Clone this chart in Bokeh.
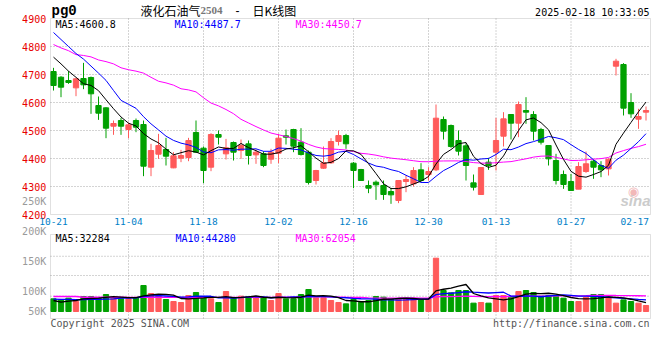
import pandas as pd
from bokeh.plotting import figure
from bokeh.models import Range1d, Label, LabelSet, ColumnDataSource, BoxAnnotation
from bokeh.core.properties import value
from bokeh.embed import file_html
from bokeh.resources import INLINE

# ---------------- data ----------------
date_labels = ["10-21", "11-04", "11-18", "12-02", "12-16", "12-30", "01-13", "01-27", "02-17"]
date_label_index = [0, 10, 20, 30, 40, 50, 59, 69, 78]

open_ = [4710.7, 4690.4, 4678.5, 4652.3, 4685.7, 4689.2, 4589.2, 4580.9, 4515.4, 4535.7,
         4503.5, 4535.7, 4521.4, 4369.0, 4415.4, 4432.1, 4366.6, 4401.1, 4403.5, 4492.8,
         4436.9, 4369.0, 4485.7, 4416.6, 4457.1, 4428.5, 4452.3, 4413.0, 4416.6, 4397.6,
         4419.0, 4480.9, 4503.5, 4458.3, 4422.6, 4321.4, 4365.4, 4384.5, 4460.7, 4482.0,
         4383.3, 4360.7, 4303.5, 4315.4, 4303.5, 4282.0, 4250.0, 4317.8, 4309.5, 4359.5,
         4342.8, 4359.5, 4539.3, 4517.8, 4464.3, 4445.2, 4313.0, 4271.4, 4386.9, 4422.6,
         4479.7, 4557.1, 4526.2, 4571.4, 4557.1, 4503.6, 4446.4, 4392.9, 4342.9, 4317.8,
         4290.5, 4353.6, 4390.5, 4375.0, 4363.0, 4729.7, 4735.7, 4600.0, 4540.5, 4565.5]
high = [4723.8, 4694.0, 4711.9, 4688.0, 4741.6, 4692.8, 4621.4, 4583.3, 4535.7, 4545.2,
        4528.5, 4542.8, 4535.7, 4452.3, 4488.0, 4473.8, 4422.6, 4430.9, 4473.8, 4535.7,
        4442.8, 4490.4, 4500.0, 4470.0, 4460.7, 4467.8, 4464.2, 4432.1, 4426.1, 4434.5,
        4488.0, 4503.5, 4506.0, 4508.3, 4428.5, 4359.5, 4442.8, 4472.6, 4500.0, 4488.0,
        4387.0, 4363.0, 4321.4, 4321.4, 4321.4, 4295.2, 4321.4, 4339.3, 4369.0, 4383.3,
        4369.0, 4592.8, 4550.0, 4521.4, 4500.0, 4455.0, 4342.8, 4369.0, 4402.4, 4545.2,
        4565.5, 4557.1, 4603.6, 4619.0, 4569.0, 4509.5, 4446.4, 4416.7, 4357.1, 4345.2,
        4386.9, 4425.0, 4395.0, 4390.5, 4400.2, 4756.0, 4740.5, 4633.3, 4577.4, 4585.7]
low = [4642.8, 4619.0, 4666.6, 4622.6, 4647.6, 4559.5, 4538.0, 4472.6, 4484.5, 4484.5,
       4472.6, 4494.0, 4336.9, 4336.9, 4398.8, 4375.0, 4365.4, 4386.9, 4390.4, 4421.4,
       4311.9, 4354.7, 4450.0, 4396.4, 4392.8, 4398.8, 4378.5, 4381.0, 4369.0, 4381.0,
       4383.3, 4450.0, 4422.6, 4410.7, 4307.1, 4307.1, 4363.0, 4381.0, 4446.4, 4434.5,
       4294.0, 4321.4, 4276.2, 4252.3, 4252.3, 4238.1, 4240.5, 4279.7, 4300.0, 4321.4,
       4321.4, 4355.0, 4467.8, 4438.1, 4410.7, 4321.4, 4285.7, 4271.4, 4359.5, 4357.1,
       4442.8, 4467.8, 4476.2, 4523.8, 4464.3, 4450.0, 4375.0, 4307.1, 4291.7, 4285.7,
       4290.5, 4348.8, 4327.4, 4333.3, 4339.3, 4696.4, 4553.6, 4545.2, 4505.9, 4535.7]
close = [4660.7, 4654.7, 4671.4, 4684.5, 4663.1, 4631.0, 4561.9, 4508.3, 4525.0, 4515.4,
         4520.2, 4511.9, 4372.6, 4428.5, 4446.4, 4408.3, 4409.5, 4410.7, 4464.2, 4422.6,
         4357.1, 4485.7, 4476.1, 4438.0, 4422.6, 4446.4, 4410.7, 4422.6, 4375.0, 4422.6,
         4472.6, 4476.1, 4444.0, 4414.2, 4314.2, 4357.1, 4384.5, 4460.7, 4482.1, 4452.4,
         4357.1, 4321.4, 4294.0, 4306.0, 4271.4, 4270.2, 4321.4, 4325.0, 4357.1, 4321.4,
         4353.5, 4544.0, 4497.6, 4442.8, 4426.2, 4375.0, 4297.6, 4367.8, 4375.0, 4464.3,
         4541.6, 4526.2, 4592.8, 4565.5, 4497.6, 4458.3, 4398.8, 4321.4, 4307.1, 4285.7,
         4371.4, 4381.0, 4369.0, 4359.5, 4397.6, 4747.6, 4579.8, 4559.5, 4550.0, 4571.4]
volume = [48400, 44500, 51000, 38200, 57300, 57300, 52200, 64900, 51000, 48400,
          48400, 52200, 99300, 68700, 61100, 45800, 38200, 34400, 61100, 72600,
          52200, 48400, 34400, 76400, 52200, 58500, 57300, 52200, 52200, 42000,
          68700, 48400, 48400, 64900, 84000, 52200, 52200, 42000, 34400, 29300,
          45800, 34400, 42000, 57300, 54700, 48400, 48400, 48400, 48400, 44500,
          48400, 203700, 80200, 71300, 80200, 80200, 31900, 34400, 31900, 61100,
          61100, 54700, 76400, 80200, 72600, 58500, 61100, 58500, 51000, 38200,
          38200, 54700, 64900, 64900, 54700, 31900, 44500, 38200, 31900, 22900]

# moving-average values before enough history is visible
ma5_head = [4762, 4738, 4712, 4690]
ma10_head = [4850, 4825, 4800, 4775, 4755, 4730, 4705, 4679, 4643]
ma30_head = [4807, 4795, 4785, 4771, 4768, 4763, 4752, 4746, 4738, 4724,
             4717, 4712, 4705, 4690, 4676, 4670, 4662, 4649, 4645, 4638,
             4617, 4598, 4588, 4575, 4560, 4540, 4527, 4514, 4502]
vol_ma5_head = [42000, 36000, 40000, 42000]
vol_ma10_head = [47000, 46000, 46000, 45000, 45000, 46000, 46000, 47000, 48000]
vol_ma30_head = [57300, 57300, 57300, 57300, 54500, 54500, 54500, 54500, 54500, 54500,
                 54000, 54000, 54000, 54000, 54000, 54000, 54000, 54000, 54000, 54000,
                 54000, 54000, 54000, 54000, 54000, 54000, 54000, 54000, 54000]

price_ticks = [4200, 4300, 4400, 4500, 4600, 4700, 4800, 4900]
# the volume scale labels of the source sit off their grid lines; kept as drawn
vol_label_values = [1100, 77500, 192000, 306700, 422100]
vol_label_texts = ["50K", "100K", "150K", "200K", "250K"]
vol_grid_values = [58400, 137500, 211000]

title_code = "pg0"
title_name = "液化石油气"
title_contract = "2504"
title_kind = "日K线图"
timestamp = "2025-02-18 10:33:05"
ma_texts = ["MA5:4600.8", "MA10:4487.7", "MA30:4450.7"]
vol_ma_texts = ["MA5:32284", "MA10:44280", "MA30:62054"]
copyright_text = "Copyright 2025 SINA.COM"
url_text = "http://finance.sina.com.cn"

# ---------------- styling / layout ----------------
W, H = 660, 360
RED = "#ff5a5a"
GREEN = "#00a000"
MA_COLORS = ["#000000", "#0000ff", "#ff00ff"]
MONO = "DejaVu Sans Mono"
CJK = "Noto Sans CJK SC"
GRID_C = "#a8a8a8"
BORDER_C = "#999999"
PRICE_LBL_C = "#e80000"
VOL_LBL_C = "#9a9a9a"
DATE_LBL_C = "#0080c8"

# pixel layout of the panels (page pixels)
PX_LEFT, PX_STEP, PX_FIRST = 50, 7.5, 53       # frame left, px per day, centre of day 0
PRICE_TOP_PX, PX_PER_PRICE = 18, 0.28          # 4900 at y=18
VOL_ZERO_PX, VOL_PER_PX = 311, 3820            # volume 0 at y=311
VOL_TOP_PX, VOL_BOT_PX = 234, 318
P_LO, P_HI = price_ticks[0], price_ticks[-1]


def fx(xp):
    return (xp - PX_FIRST) / PX_STEP


def py(yp):
    return P_HI - (yp - PRICE_TOP_PX) / PX_PER_PRICE


def vy(yp):
    return (VOL_ZERO_PX - yp) * VOL_PER_PX


X_START, X_END = fx(PX_LEFT), fx(650)
V_LO, V_HI = vy(VOL_BOT_PX), vy(VOL_TOP_PX)


def moving(values, n, head):
    s = pd.Series(values, dtype=float).rolling(n).mean().tolist()
    return list(head) + s[n - 1:]


n = len(close)
xs = list(range(n))
colors = [RED if c >= o else GREEN for o, c in zip(open_, close)]
src = ColumnDataSource(dict(
    x=xs, open=open_, close=close, high=high, low=low,
    lo=[min(o, c) for o, c in zip(open_, close)],
    hi=[max(o, c) for o, c in zip(open_, close)],
    color=colors, vol=volume,
    ma5=moving(close, 5, ma5_head), ma10=moving(close, 10, ma10_head),
    ma30=moving(close, 30, ma30_head),
    vma5=moving(volume, 5, vol_ma5_head), vma10=moving(volume, 10, vol_ma10_head),
    vma30=moving(volume, 30, vol_ma30_head),
))

p = figure(width=W, height=H, x_range=Range1d(fx(0), fx(W)), y_range=Range1d(py(H), py(0)),
           output_backend="svg", toolbar_location=None, tools="",
           x_axis_location=None, y_axis_location=None, min_border=0,
           outline_line_color=None, background_fill_color="white",
           border_fill_color="white")
p.extra_y_ranges = {"vol": Range1d(vy(H), vy(0))}
p.grid.visible = False


def lab(x, y, text, color="#000000", size="10px", font=MONO, align="left", style="normal",
        yr="default"):
    p.add_layout(Label(x=x, y=y, text=text, text_color=color, text_font_size=size,
                       text_font=font, text_align=align, text_baseline="middle",
                       text_font_style=style, y_range_name=yr))


# ---- grid lines (dotted), drawn from the tick lists ----
grid_dates = [i for i in date_label_index if 0 < i < date_label_index[-1]]
k = len(grid_dates)
p.segment(x0=grid_dates, y0=[P_LO] * k, x1=grid_dates, y1=[P_HI] * k,
          line_color=GRID_C, line_dash="1 2", line_width=1)
p.segment(x0=grid_dates, y0=[V_LO] * k, x1=grid_dates, y1=[V_HI] * k,
          line_color=GRID_C, line_dash="1 2", line_width=1, y_range_name="vol")
inner = price_ticks[1:-1]
p.segment(x0=[X_START] * len(inner), y0=inner, x1=[X_END] * len(inner), y1=inner,
          line_color=GRID_C, line_dash="1 2", line_width=1)
p.segment(x0=[X_START] * len(vol_grid_values), y0=vol_grid_values,
          x1=[X_END] * len(vol_grid_values), y1=vol_grid_values,
          line_color=GRID_C, line_dash="1 2", line_width=1, y_range_name="vol")

# ---- candles ----
p.segment(x0="x", y0="low", x1="x", y1="high", color="color", line_width=1, source=src)
p.vbar(x="x", width=0.7, bottom="lo", top="hi", fill_color="color", line_color="color",
       line_width=1, source=src)
for col, c in zip(["ma30", "ma10", "ma5"], MA_COLORS[::-1]):
    p.line(x="x", y=col, color=c, line_width=1, source=src)

# ---- volume ----
p.vbar(x="x", width=0.7, bottom=0, top="vol", fill_color="color", line_color="color",
       line_width=1, source=src, y_range_name="vol")
for col, c in zip(["vma30", "vma10", "vma5"], MA_COLORS[::-1]):
    p.line(x="x", y=col, color=c, line_width=1.3, source=src, y_range_name="vol")

# ---- panel borders ----
p.add_layout(BoxAnnotation(left=X_START, right=X_END, bottom=P_LO, top=P_HI,
                           fill_alpha=0, line_color=BORDER_C, line_width=1))
p.add_layout(BoxAnnotation(left=X_START, right=X_END, bottom=V_LO, top=V_HI,
                           fill_alpha=0, line_color=BORDER_C, line_width=1,
                           y_range_name="vol"))

# ---- scale labels ----
p.add_layout(LabelSet(
    x="x", y="y", text="t", source=ColumnDataSource(dict(
        x=[fx(45.7)] * len(price_ticks), y=price_ticks, t=[str(v) for v in price_ticks])),
    text_color=PRICE_LBL_C, text_font=value(MONO), text_font_size="10px",
    text_align="right", text_baseline="middle"))
p.add_layout(LabelSet(
    x="x", y="y", text="t", y_range_name="vol", source=ColumnDataSource(dict(
        x=[fx(45.7)] * len(vol_label_values), y=vol_label_values, t=vol_label_texts)),
    text_color=VOL_LBL_C, text_font=value(MONO), text_font_size="10px",
    text_align="right", text_baseline="middle"))
label_pos = [min(float(i), X_END - 2.1) for i in date_label_index]
p.add_layout(LabelSet(
    x="x", y="y", text="t", source=ColumnDataSource(dict(
        x=label_pos, y=[py(221)] * len(label_pos), t=date_labels)),
    text_color=DATE_LBL_C, text_font=value(MONO), text_font_size="9.5px",
    text_align="center", text_baseline="middle"))

# ---- header / legend texts ----
lab(fx(51), py(10.5), title_code, size="14px", font="Liberation Mono", style="bold")
lab(fx(140), py(9.5), title_name, size="12px", font=CJK)
lab(fx(200), py(10), title_contract, color="#777777", size="11px",
    font="Liberation Serif", style="bold")
lab(fx(235), py(10), "-", size="12px", font="Liberation Sans")
lab(fx(252), py(9.5), title_kind, size="12px", font=CJK)
lab(fx(649), py(12.3), timestamp, align="right")
for xp, t, c in zip([55, 174, 295], ma_texts, MA_COLORS):
    lab(fx(xp), py(24.2), t, color=c)
for xp, t, c in zip([55, 175, 295], vol_ma_texts, MA_COLORS):
    lab(fx(xp), py(238.3), t, color=c)
lab(fx(50), py(323.3), copyright_text, color="#555555")
lab(fx(649), py(323.3), url_text, color="#555555", align="right")

# sina watermark
lab(fx(633), py(191), "◉", color="#f2b8b8", size="13px", font="DejaVu Sans", align="center")
lab(fx(620), py(200), "sina", color="#cccccc", size="15px", font="Liberation Sans",
    style="bold italic")

open("out.html", "w").write(file_html(p, INLINE))
